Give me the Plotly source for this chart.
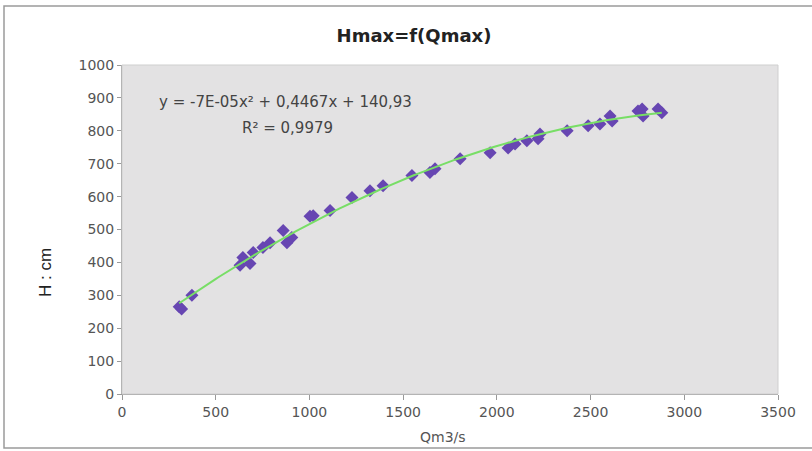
import numpy as np
import plotly.graph_objects as go

# Data
q_max = [305, 318, 373, 630, 645, 683, 700, 752, 790, 860, 880, 906,
         1003, 1020, 1110, 1227, 1323, 1393, 1547, 1643, 1670, 1804,
         1964, 2060, 2097, 2160, 2220, 2230, 2375, 2487, 2550, 2604,
         2615, 2753, 2775, 2780, 2860, 2880]
h_max = [265, 258, 300, 391, 415, 397, 430, 445, 460, 497, 460, 476,
         540, 542, 558, 597, 618, 633, 664, 673, 685, 715,
         733, 748, 760, 770, 776, 790, 800, 815, 821, 845,
         830, 860, 866, 845, 866, 855]

title_text = "Hmax=f(Qmax)"
x_title = "Qm3/s"
y_title = "H : cm"
eq_text = "y = -7E-05x² + 0,4467x + 140,93"
r2_text = "R² = 0,9979"
x_ticks = [0, 500, 1000, 1500, 2000, 2500, 3000, 3500]
y_ticks = [0, 100, 200, 300, 400, 500, 600, 700, 800, 900, 1000]

coef = np.polyfit(q_max, h_max, 2)
xs = np.linspace(min(q_max), max(q_max), 200)
ys = np.polyval(coef, xs)

fig = go.Figure()
fig.add_trace(go.Scatter(x=q_max, y=h_max, mode="markers",
                         marker=dict(symbol="diamond", size=10, color="#5a36ad",
                                     line=dict(width=0)),
                         opacity=0.9, showlegend=False))
fig.add_trace(go.Scatter(x=xs, y=ys, mode="lines",
                         line=dict(color="#78de66", width=2),
                         showlegend=False))

PL, PR, PT, PB = 122, 778, 65, 394
PW, PH = PR - PL, PB - PT

tick_font = dict(family="DejaVu Sans", size=14, color="#555555")
fig.update_layout(
    width=812, height=451,
    margin=dict(l=PL, r=812 - PR, t=PT, b=451 - PB),
    paper_bgcolor="white",
    plot_bgcolor="#e3e2e3",
    title=dict(text="<b>" + title_text + "</b>", x=414 / 812, xanchor="center",
               y=1 - 36 / 451, yanchor="middle",
               font=dict(family="DejaVu Sans", size=18, color="#222222")),
    xaxis=dict(range=[0, 3500], tickvals=x_ticks, showgrid=False, zeroline=False,
               showline=True, linecolor="#999999", linewidth=1,
               ticks="outside", ticklen=5, tickcolor="#999999",
               tickfont=tick_font, fixedrange=True),
    yaxis=dict(range=[0, 1000], tickvals=y_ticks, showgrid=False, zeroline=False,
               showline=True, linecolor="#999999", linewidth=1,
               ticks="outside", ticklen=4, tickcolor="#999999",
               tickfont=tick_font, fixedrange=True),
)

# plot area border and outer chart border
fig.add_shape(type="rect", xref="paper", yref="paper", x0=0, x1=1, y0=0, y1=1,
              line=dict(color="#cfcfcf", width=1))
fig.add_shape(type="rect", xref="paper", yref="paper",
              x0=(4 - PL) / PW, x1=(818 - PL) / PW,
              y0=-(448 - PB) / PH, y1=(PB - 6) / PH,
              line=dict(color="#9a9a9a", width=1.5))

fig.add_annotation(text=eq_text, xref="paper", yref="paper",
                   x=(157 - PL) / PW, y=(PB - 102) / PH, xanchor="left", yanchor="middle",
                   showarrow=False,
                   font=dict(family="DejaVu Sans", size=15, color="#444444"))
fig.add_annotation(text=r2_text, xref="paper", yref="paper",
                   x=(240 - PL) / PW, y=(PB - 128) / PH, xanchor="left", yanchor="middle",
                   showarrow=False,
                   font=dict(family="DejaVu Sans", size=15, color="#444444"))
fig.add_annotation(text=x_title, xref="paper", yref="paper",
                   x=(443 - PL) / PW, y=-(437 - PB) / PH, xanchor="center", yanchor="middle",
                   showarrow=False,
                   font=dict(family="DejaVu Sans", size=14, color="#555555"))
fig.add_annotation(text=y_title, xref="paper", yref="paper",
                   x=(45 - PL) / PW, y=(PB - 273) / PH, xanchor="center", yanchor="middle",
                   showarrow=False, textangle=-90,
                   font=dict(family="Liberation Sans, Arial", size=17, color="#222222"))

fig.write_html("out.html", post_script="document.body.style.margin='0';",
               config={"displayModeBar": False})
